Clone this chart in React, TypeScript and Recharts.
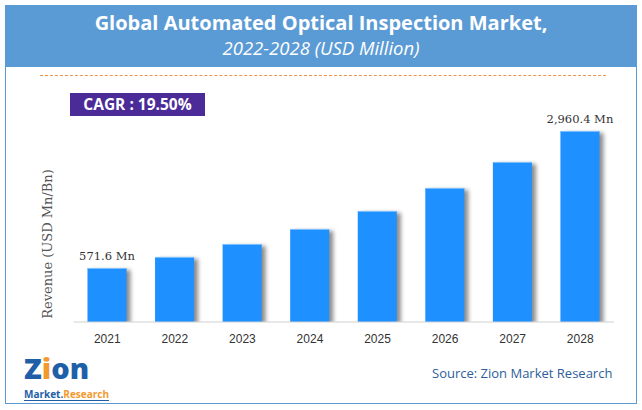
import { BarChart, Bar, XAxis, YAxis, LabelList } from "recharts";

const years = ["2021", "2022", "2023", "2024", "2025", "2026", "2027", "2028"];
// USD Mn
const revenue = [571.6, 764, 990, 1252, 1566, 1967, 2420, 2960.4];
const barLabels = ["571.6 Mn", "", "", "", "", "", "", "2,960.4 Mn"];

const Y_MIN = -370;
const Y_MAX = 3300;

const chartData = years.map((year, i) => ({
  year,
  value: revenue[i],
  label: barLabels[i],
}));

const serif = "'DejaVu Serif', Georgia, serif";
const sans = "'Open Sans', 'Noto Sans', sans-serif";

function ShadowBar(props: any) {
  const { x, y, width, height } = props;
  if (!height || height <= 0) return null;
  return (
    <g>
      <rect
        x={x}
        y={y}
        width={width}
        height={height}
        fill="#1E90FF"
        style={{ filter: "drop-shadow(4px 2px 2px rgba(0,0,0,0.45))" }}
      />
      <line x1={x} x2={x + width} y1={y + 0.5} y2={y + 0.5} stroke="#7cc0ff" strokeWidth={1} />
    </g>
  );
}

function TopLabel(props: any) {
  const { x, y, width, index } = props;
  const text = barLabels[index];
  if (!text) return null;
  return (
    <text
      x={x + width / 2}
      y={y - 8}
      textAnchor="middle"
      fontFamily={serif}
      fontSize={11.5}
      fill="#333"
    >
      {text}
    </text>
  );
}

export default function App() {
  return (
    <div style={{ position: "relative", width: 642, height: 410, background: "#fff", overflow: "hidden" }}>
      <style>{`body{margin:0}`}</style>

      {/* frame + header */}
      <div
        style={{
          position: "absolute",
          left: 5,
          top: 5,
          width: 630,
          height: 397,
          border: "1px solid #5b9bd5",
        }}
      />
      <div
        style={{
          position: "absolute",
          left: 5,
          top: 5,
          width: 632,
          height: 62,
          background: "#5b9bd5",
          color: "#fff",
          textAlign: "center",
          fontFamily: sans,
        }}
      >
        <div style={{ fontSize: 20, fontWeight: 700, marginTop: 4, lineHeight: "27px" }}>
          Global Automated Optical Inspection Market,
        </div>
        <div style={{ fontSize: 18.5, fontStyle: "italic", lineHeight: "24px" }}>
          2022-2028 (USD Million)
        </div>
      </div>
      <div
        style={{
          position: "absolute",
          left: 40,
          top: 75,
          width: 566,
          borderTop: "1px dashed #f0914a",
        }}
      />

      {/* CAGR badge */}
      <div
        style={{
          position: "absolute",
          left: 70,
          top: 93,
          width: 135,
          height: 23,
          background: "#4a2b97",
          color: "#fff",
          fontFamily: sans,
          fontWeight: 700,
          fontSize: 15.5,
          lineHeight: "23px",
          textAlign: "center",
        }}
      >
        CAGR : 19.50%
      </div>

      {/* y axis title */}
      <div
        style={{
          position: "absolute",
          left: 47,
          top: 244,
          transform: "translate(-50%, -50%) rotate(-90deg)",
          whiteSpace: "nowrap",
          fontFamily: serif,
          fontSize: 13,
          color: "#555",
        }}
      >
        Revenue (USD Mn/Bn)
      </div>

      <div style={{ position: "absolute", left: 0, top: 0 }}>
        <BarChart
          width={642}
          height={410}
          data={chartData}
          margin={{ top: 111.5, right: 28, bottom: 58, left: 73.5 }}
        >
          <XAxis
            dataKey="year"
            height={30}
            tickLine={false}
            axisLine={{ stroke: "#d0d0d0" }}
            tick={{ fontSize: 12, fill: "#333", fontFamily: "'Liberation Sans', Arial, sans-serif" }}
            tickMargin={6}
          />
          <YAxis hide domain={[Y_MIN, Y_MAX]} type="number" allowDataOverflow />
          <Bar
            dataKey={(d: any) => [Y_MIN, d.value]}
            barSize={39}
            shape={<ShadowBar />}
            isAnimationActive={false}
          >
            <LabelList dataKey="label" content={<TopLabel />} />
          </Bar>
        </BarChart>
      </div>

      {/* logo */}
      <div
        style={{
          position: "absolute",
          left: 24,
          top: 354,
          fontFamily: sans,
          fontSize: 29,
          fontWeight: 800,
          color: "#1f5fa8",
          lineHeight: "28px",
          height: 28,
          whiteSpace: "nowrap",
        }}
      >
        Z<span style={{ color: "#f29a2e" }}>i</span>on
      </div>
      <div
        style={{
          position: "absolute",
          left: 24,
          top: 389,
          fontFamily: sans,
          fontSize: 10,
          fontWeight: 700,
          lineHeight: "11px",
          color: "#1f5fa8",
          borderBottom: "1px solid #1f5fa8",
          whiteSpace: "nowrap",
        }}
      >
        Market.<span style={{ color: "#f29a2e" }}>Research</span>
      </div>

      <div
        style={{
          position: "absolute",
          left: 432,
          top: 364,
          fontFamily: sans,
          fontSize: 13,
          color: "#2e5e9a",
          whiteSpace: "nowrap",
        }}
      >
        Source: Zion Market Research
      </div>
    </div>
  );
}
